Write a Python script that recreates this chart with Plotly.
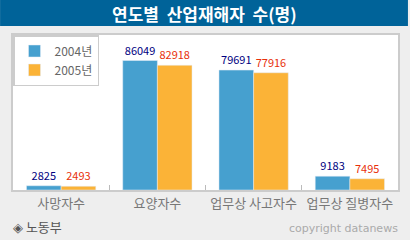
import plotly.graph_objects as go

categories = ["사망자수", "요양자수", "업무상 사고자수", "업무상 질병자수"]
values_2004 = [2825, 86049, 79691, 9183]
values_2005 = [2493, 82918, 77916, 7495]
series_names = ["2004년", "2005년"]

W, H = 410, 240
L, R, T, B = 13, 10, 35, 50
pw, ph = W - L - R, H - T - B

def px_x(p):
    return (p - L) / pw

def px_y(p):
    return (H - B - p) / ph

FONT = "Noto Sans CJK KR"

fig = go.Figure()
fig.add_trace(go.Bar(
    x=categories, y=values_2004, name=series_names[0],
    marker=dict(color="#46A0CF"),
    text=[str(v) for v in values_2004], textposition="outside",
    textfont=dict(color="#000080", size=11, family=FONT),
    cliponaxis=False,
))
fig.add_trace(go.Bar(
    x=categories, y=values_2005, name=series_names[1],
    marker=dict(color="#FBB337"),
    text=[str(v) for v in values_2005], textposition="outside",
    textfont=dict(color="#E8300A", size=11, family=FONT),
    cliponaxis=False,
))

fig.update_layout(
    width=W, height=H,
    margin=dict(l=L, r=R, t=T, b=B, pad=0),
    paper_bgcolor="#EEEEEE", plot_bgcolor="#FFFFFF",
    barmode="group", bargap=0.28, bargroupgap=0,
    font=dict(family=FONT, color="#666666"),
    showlegend=True,
    legend=dict(
        x=0, y=1, xanchor="left", yanchor="top",
        bgcolor="#FFFFFF", bordercolor="#CCCCCC", borderwidth=1.5,
        font=dict(size=12, color="#666666", family=FONT),
        itemwidth=30,
    ),
    xaxis=dict(
        showline=True, linecolor="#CCCCCC", linewidth=2, mirror=True,
        ticks="inside", tickson="boundaries", ticklen=5, tickcolor="#BBBBBB",
        tickfont=dict(size=13, color="#777777", family=FONT),
        showgrid=False,
    ),
    yaxis=dict(
        range=[0, 103000], showticklabels=False, showgrid=False,
        zeroline=False, showline=True, linecolor="#CCCCCC", linewidth=2,
        mirror=True, ticks="",
    ),
    shapes=[
        dict(type="rect", xref="paper", yref="paper",
             x0=px_x(0), x1=px_x(W), y0=px_y(26), y1=px_y(0),
             fillcolor="#006399", line=dict(width=0), layer="above"),
    ],
    annotations=[
        dict(text="<b>연도별  산업재해자  수(명)</b>", xref="paper", yref="paper",
             x=px_x(W / 2), y=px_y(13), xanchor="center", yanchor="middle",
             showarrow=False, font=dict(size=17, color="#FFFFFF", family=FONT)),
        dict(text="◈ 노동부", xref="paper", yref="paper",
             x=px_x(11), y=px_y(226), xanchor="left", yanchor="middle",
             showarrow=False, font=dict(size=13, color="#555555", family=FONT)),
        dict(text="copyright datanews", xref="paper", yref="paper",
             x=px_x(402), y=px_y(228), xanchor="right", yanchor="middle",
             showarrow=False, font=dict(size=11, color="#AAAAAA", family="DejaVu Sans")),
    ],
)

fig.write_html("out.html")
